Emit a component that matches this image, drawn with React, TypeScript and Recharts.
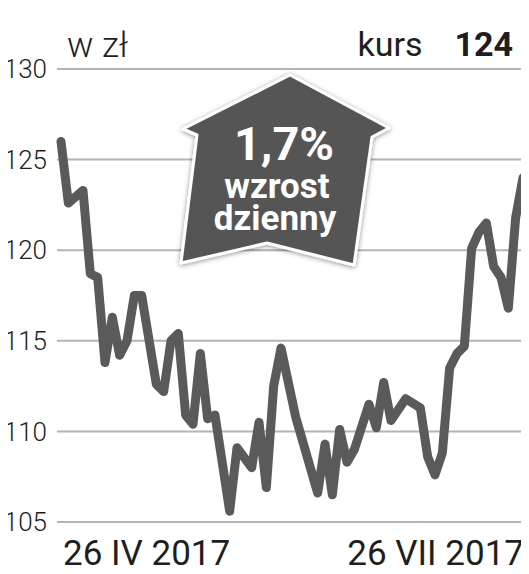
import { LineChart, Line, XAxis, YAxis, CartesianGrid } from "recharts";

const days = [0, 1, 3, 4, 5, 6, 7, 8, 9, 10, 11, 13, 14, 15, 16, 17, 18, 19, 20, 21, 23, 24, 26, 27, 28, 29, 30, 32, 35, 36, 37, 38, 39, 40, 42, 43, 44, 45, 47, 49, 50, 51, 52, 53, 54, 55, 56, 57, 58, 59, 60, 61, 62, 63];
const prices = [126.0, 122.6, 123.3, 118.7, 118.5, 113.8, 116.3, 114.2, 115.0, 117.5, 117.5, 112.6, 112.2, 115.0, 115.4, 110.9, 110.4, 114.3, 110.7, 110.9, 105.6, 109.1, 108.0, 110.5, 106.9, 112.5, 114.6, 110.8, 106.6, 109.3, 106.5, 110.1, 108.3, 109.0, 111.5, 110.2, 112.7, 110.6, 111.8, 111.3, 108.6, 107.6, 108.8, 113.5, 114.3, 114.7, 120.1, 121.0, 121.5, 119.1, 118.5, 116.8, 121.8, 124.0];
const yTicks = [105, 110, 115, 120, 125, 130];
const xTicks = [0, 63];
const xLabels = ["26 IV 2017", "26 VII 2017"];

const data = days.map((d, i) => ({ d, v: prices[i] }));

const font = "Roboto, 'Noto Sans', sans-serif";

function DateTick(props: any) {
  const { x, y, index } = props;
  const first = index === 0;
  return (
    <text
      x={first ? x + 2 : x + 3}
      y={y + 35}
      textAnchor={first ? "start" : "end"}
      fontFamily={font}
      fontSize={35}
      fill="#1e1e1e"
    >
      {xLabels[index]}
    </text>
  );
}

function Badge() {
  return (
    <svg width={529} height={574} style={{ position: "absolute", left: 0, top: 0, pointerEvents: "none" }}>
      <defs>
        <filter id="shadow" x="-20%" y="-20%" width="140%" height="140%">
          <feDropShadow dx="0" dy="1" stdDeviation="2.5" floodColor="#000" floodOpacity="0.45" />
        </filter>
      </defs>
      <polygon
        points="290,75 389,128 372,137 354,265 267,243 181,263 197,135 183,129"
        fill="#555555"
        stroke="#fff"
        strokeWidth={3}
        strokeLinejoin="round"
        filter="url(#shadow)"
      />
      <g fontFamily={font} fontWeight={700} fill="#fff" textAnchor="middle">
        <text x={284} y={160} fontSize={47}>1,7%</text>
        <text x={277} y={198} fontSize={35}>wzrost</text>
        <text x={275} y={230} fontSize={35}>dzienny</text>
      </g>
    </svg>
  );
}

export default function App() {
  return (
    <div style={{ position: "relative", width: 529, height: 574, margin: -8, background: "#fff" }}>
      <LineChart width={529} height={574} data={data} margin={{ top: 69, right: 0, bottom: 0, left: 0 }}>
        <CartesianGrid vertical={false} stroke="#b4b4b4" strokeWidth={2} />
        <XAxis
          type="number"
          dataKey="d"
          domain={[0, 63]}
          ticks={xTicks}
          padding={{ left: 4, right: 6 }}
          axisLine={false}
          tickLine={false}
          height={52}
          tick={<DateTick />}
        />
        <YAxis
          domain={[105, 130]}
          ticks={yTicks}
          width={57}
          axisLine={false}
          tickLine={false}
          tickMargin={4}
          tick={{ fontFamily: font, fontSize: 26, fontWeight: 300, fill: "#1e1e1e" }}
        />
        <Line
          type="linear"
          dataKey="v"
          stroke="#5a5a5a"
          strokeWidth={9}
          strokeLinejoin="round"
          strokeLinecap="round"
          dot={false}
          isAnimationActive={false}
        />
      </LineChart>
      <div style={{ position: "absolute", left: 67, top: 25, fontFamily: font, fontWeight: 300, fontSize: 35, lineHeight: "42px", color: "#1e1e1e" }}>
        w zł
      </div>
      <div style={{ position: "absolute", right: 16, top: 24, fontFamily: font, fontSize: 34, color: "#1e1e1e", whiteSpace: "nowrap" }}>
        kurs<span style={{ fontWeight: 700, marginLeft: 32 }}>124</span>
      </div>
      <Badge />
    </div>
  );
}
